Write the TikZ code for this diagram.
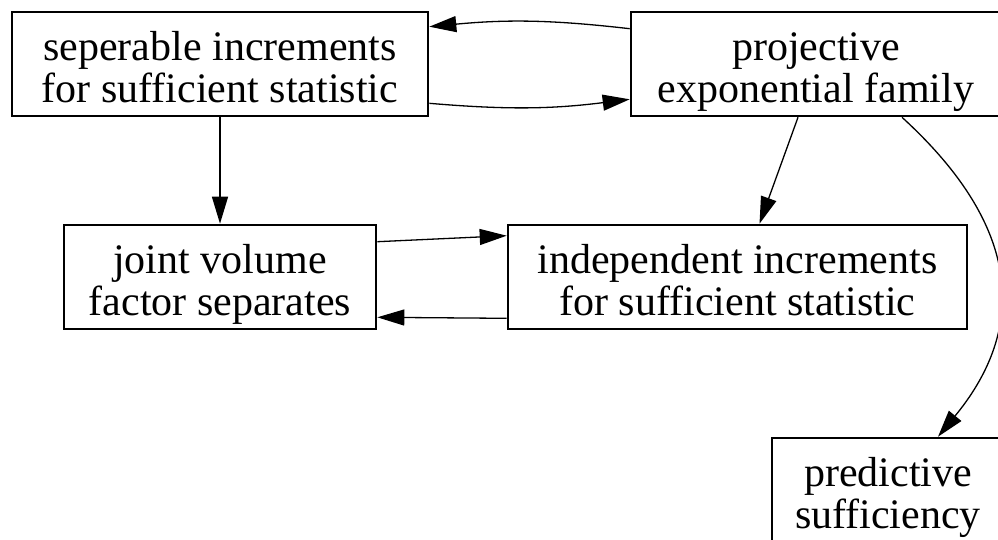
\documentclass[tikz,border=0pt]{standalone}
\usepackage{fontspec}
\setmainfont{Liberation Serif}
\usetikzlibrary{arrows.meta}
\newcommand\twoline[2]{\begin{tabular}[t]{@{}c@{}}#1\\#2\end{tabular}}
\begin{document}
\begin{tikzpicture}[x=1pt,y=-1pt,
  box/.style={draw, line width=2.6pt, minimum height=104pt, inner sep=0pt,
              text height=33pt, text depth=40pt, font=\fontsize{42}{40}\selectfont},
  edge/.style={line width=1.3pt, -{Triangle[length=27pt,width=16pt]}}]
\useasboundingbox (0,0) rectangle (998,539);
\node[box, minimum width=416pt] (b1) at (220,64) {\twoline{seperable increments}{for sufficient statistic}};
\node[box, minimum width=370pt] (b2) at (816,64) {\twoline{projective}{exponential family}};
\node[box, minimum width=312pt] (b3) at (220,277) {\twoline{joint volume}{factor separates}};
\node[box, minimum width=459pt] (b4) at (737.5,277) {\twoline{independent increments}{for sufficient statistic}};
\node[box, minimum width=232pt] (b5) at (888,490) {\twoline{predictive}{sufficiency}};
\draw[edge] ([yshift=-18pt]b2.north west) to[bend right=6] ([yshift=-16pt]b1.north east);
\draw[edge] ([yshift=14pt]b1.south east) to[bend right=6] ([yshift=18pt]b2.south west);
\draw[edge] (b1.south) -- (b3.north);
\draw[edge] ([yshift=-18pt]b3.north east) -- ([yshift=-12pt]b4.north west);
\draw[edge] ([yshift=12pt]b4.south west) -- ([yshift=13pt]b3.south east);
\draw[edge] ([xshift=-18pt]b2.south) -- ([xshift=22pt]b4.north);
\draw[edge] ([xshift=86pt]b2.south) .. controls (1032,236) and (1020,337) .. ([xshift=50pt]b5.north);
\end{tikzpicture}
\end{document}
